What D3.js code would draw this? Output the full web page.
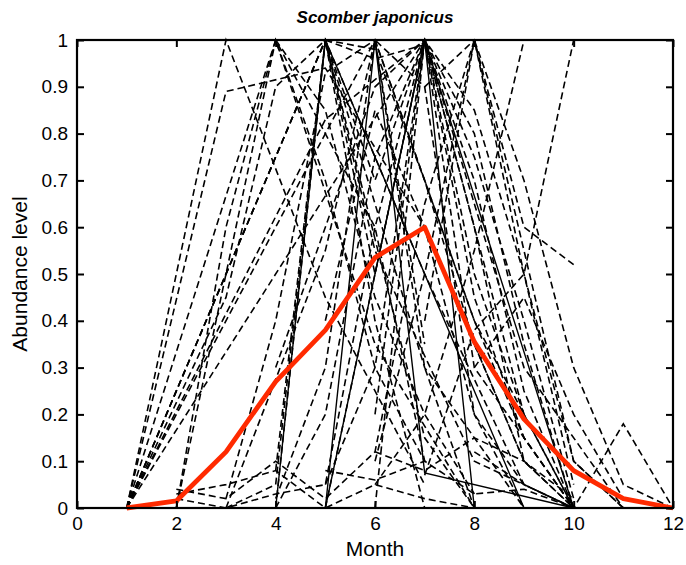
<!DOCTYPE html>
<html>
<head>
<meta charset="utf-8">
<script src="https://cdn.jsdelivr.net/npm/d3@7"></script>
<style>
  body { margin: 0; background: #fff; }
  svg { font-family: "Liberation Sans", Arial, sans-serif; }
</style>
</head>
<body>
<svg id="chart" width="686" height="565"></svg>
<script>
const months = [1, 2, 3, 4, 5, 6, 7, 8, 9, 10, 11, 12];
const xTicks = [0, 2, 4, 6, 8, 10, 12];
const yTicks = [0, 0.1, 0.2, 0.3, 0.4, 0.5, 0.6, 0.7, 0.8, 0.9, 1];

// one row per record, null = month not sampled (line just joins the sampled months)
const dashedSeries = [
  [0, null, 1, null, 0.45, null, 0.05, null, null, null, null, null],
  [0, null, 0.89, null, 0.94, null, 0.6, null, 0.1, null, null, null],
  [0, null, null, 1, null, 0.35, null, 0, null, null, null, null],
  [0, null, null, null, 1, null, 0.5, null, 0.05, null, null, null],
  [0, null, null, null, 1, 0.55, null, 0.1, null, 0, null, null],
  [0, null, null, null, null, 1, null, 0.4, null, 0, null, null],
  [0, null, null, null, null, null, 1, null, 0.3, null, 0, null],
  [0, null, null, null, 0.83, null, 1, null, 0.2, 0, null, null],
  [0, null, null, 0.75, 1, null, 0.3, null, 0, null, null, null],
  [0, null, 0.45, 0.9, 1, 0.5, null, null, null, null, null, null],
  [null, 0, null, 1, null, 0.6, 0.1, null, null, null, null, null],
  [null, 0, 0.6, 1, 0.7, 0.3, 0.1, null, null, null, null, null],
  [null, 0.03, 0.05, 0.08, 0, 0.05, 0.02, 0, null, null, null, null],
  [null, 0.04, 0.02, 0.1, 0.02, 0.12, 0.65, 1, 0.5, 0.05, null, null],
  [null, 0.02, 0, 0.03, 0.05, 0.6, 1, 0.5, 0.2, null, null, null],
  [null, null, 0, 0.05, 1, 0.4, 0, null, null, null, null, null],
  [null, null, 0.02, 0.4, 0.93, 1, 0.35, null, null, null, null, null],
  [null, null, 0, null, 0.55, 1, 0.3, 0, null, null, null, null],
  [null, null, null, 0, 1, null, 0.15, 0, null, null, null, null],
  [null, null, null, 0.08, 1, 0.7, 1, 0.3, null, 0, null, null],
  [null, null, null, 0.02, 0.3, 1, 0.9, 0.2, 0, null, null, null],
  [null, null, null, 0, 0.2, 0.75, 1, 0.45, 0.15, 0, null, null],
  [null, null, null, 0.3, 0.6, 0.9, 1, 0.7, 0.25, 0, null, null],
  [null, null, null, 1, 0.85, 0.45, 0.2, 0.03, null, null, null, null],
  [null, null, null, null, 0, 0.5, 1, 0.6, 0.1, 0, null, null],
  [null, null, null, null, 0.05, 0.3, 1, 0.8, 0.35, 0, null, null],
  [null, null, null, null, 0.4, 0.85, 0.6, 0.2, 0.05, 0, null, null],
  [null, null, null, null, 0.08, 0.06, 0.1, 0.03, 0.04, 0, null, null],
  [null, null, null, null, 1, 0.98, 0.7, 0.4, 0.15, 0, null, null],
  [null, null, null, null, 1, 0.96, 0.99, null, null, null, null, null],
  [null, null, null, null, null, 0, 1, 0.75, 0.4, 0.02, null, null],
  [null, null, null, null, null, 0.1, 0.5, 1, 0.6, 0.52, null, null],
  [null, null, null, null, null, 0.12, 0.08, 0.15, 0.1, 0.02, null, null],
  [null, null, null, null, null, 0.05, 0.2, 0.55, 1, null, null, null],
  [null, null, null, null, null, 0.2, 1, 0.85, 0.5, 0.1, 0, null],
  [null, null, null, null, null, 1, 0.7, 0.35, 0.1, 0, null, null],
  [null, null, null, null, null, null, 0.07, 0.38, 0.5, 1, null, null],
  [null, null, null, null, null, null, 0.9, 1, 0.55, 0.1, 0, null],
  [null, null, null, null, null, null, 0.4, 1, 0.7, 0.3, 0.05, 0],
  [null, null, null, null, null, null, null, 0.12, 0.05, 0, 0.18, 0],
  [null, null, null, null, null, null, null, 0.3, 0.45, 0.2, 0.02, 0]
];

const solidSeries = [
  [null, null, null, 0, 1, null, null, null, 0, null, null, null],
  [null, null, null, null, 0, 1, 0.075, null, null, 0, null, null],
  [null, null, null, null, 0, null, 1, 0, null, null, null, null],
  [null, null, null, null, null, 0.5, 1, null, null, 0, null, null]
];

// mean abundance per month (red)
const meanValues = [0, 0.015, 0.12, 0.27, 0.38, 0.535, 0.6, 0.355, 0.19, 0.08, 0.02, 0];

const svg = d3.select("#chart");
const margin = {left: 77, right: 13, top: 40, bottom: 57};
const W = 686, H = 565;

const x = d3.scaleLinear().domain([0, 12]).range([margin.left, W - margin.right]);
const y = d3.scaleLinear().domain([0, 1]).range([H - margin.bottom, margin.top]);

const plot = svg.append("g");

const line = d3.line()
  .x(d => x(d[0]))
  .y(d => y(d[1]));

function pairs(vals) {
  return months.map((m, i) => [m, vals[i]]).filter(d => d[1] !== null);
}

plot.selectAll(".dash").data(dashedSeries).enter()
  .append("path")
  .attr("class", "dash")
  .attr("d", d => line(pairs(d)))
  .attr("fill", "none")
  .attr("stroke", "#000")
  .attr("stroke-width", 1.6)
  .attr("stroke-dasharray", "7,4");

plot.selectAll(".solid").data(solidSeries).enter()
  .append("path")
  .attr("class", "solid")
  .attr("d", d => line(pairs(d)))
  .attr("fill", "none")
  .attr("stroke", "#000")
  .attr("stroke-width", 1.4);

plot.append("path")
  .datum(pairs(meanValues))
  .attr("d", line)
  .attr("fill", "none")
  .attr("stroke", "#ff2a00")
  .attr("stroke-width", 4.8)
  .attr("stroke-linejoin", "round");

// axes, ticks pointing inward like matlab
const fontSize = 19;
svg.append("g")
  .attr("transform", `translate(0,${y(0)})`)
  .call(d3.axisBottom(x).tickValues(xTicks).tickSizeInner(-7).tickSizeOuter(0).tickPadding(9))
  .call(g => g.select(".domain").remove());
svg.append("g")
  .attr("transform", `translate(0,${y(1)})`)
  .call(d3.axisTop(x).tickValues(xTicks).tickSizeInner(-7).tickSizeOuter(0).tickFormat(""))
  .call(g => g.select(".domain").remove());
svg.append("g")
  .attr("transform", `translate(${x(0)},0)`)
  .call(d3.axisLeft(y).tickValues(yTicks).tickSizeInner(-7).tickSizeOuter(0).tickPadding(9).tickFormat(d3.format("~g")))
  .call(g => g.select(".domain").remove());
svg.append("g")
  .attr("transform", `translate(${x(12)},0)`)
  .call(d3.axisRight(y).tickValues(yTicks).tickSizeInner(-7).tickSizeOuter(0).tickFormat(""))
  .call(g => g.select(".domain").remove());

svg.selectAll(".tick line").attr("stroke", "#000").attr("stroke-width", 2);
svg.selectAll(".tick text")
  .attr("fill", "#000")
  .style("font-size", fontSize + "px")
  .style("font-family", "Liberation Sans, Arial, sans-serif");

svg.append("rect")
  .attr("x", x(0)).attr("y", y(1))
  .attr("width", x(12) - x(0)).attr("height", y(0) - y(1))
  .attr("fill", "none").attr("stroke", "#000").attr("stroke-width", 2.2);

svg.append("text")
  .attr("x", (x(0) + x(12)) / 2).attr("y", 23)
  .attr("text-anchor", "middle")
  .style("font-size", "17px").style("font-weight", "bold").style("font-style", "italic")
  .text("Scomber japonicus");

svg.append("text")
  .attr("x", (x(0) + x(12)) / 2).attr("y", 556)
  .attr("text-anchor", "middle")
  .style("font-size", "21px")
  .text("Month");

svg.append("text")
  .attr("transform", `translate(27,${(y(0) + y(1)) / 2}) rotate(-90)`)
  .attr("text-anchor", "middle")
  .style("font-size", "21px")
  .text("Abundance level");
</script>
</body>
</html>
